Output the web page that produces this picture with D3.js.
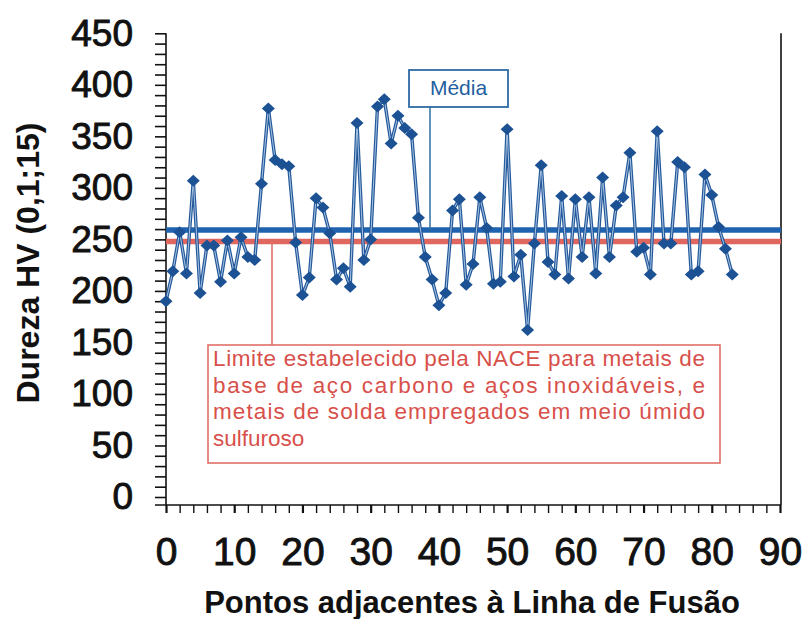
<!DOCTYPE html>
<html><head><meta charset="utf-8">
<script src="https://cdn.jsdelivr.net/npm/d3@7"></script>
<style>body{margin:0;background:#fff}svg{display:block}text{font-family:"Liberation Sans",Arial,sans-serif}</style>
</head><body><svg id="c" width="808" height="619"></svg>
<script>
const hardness=[190,219,257,217,307,198,244,244,209,249,
217,252,233,230,304,377,327,323,321,247,
196,213,290,281,256,211,222,204,363,230,
250,379,386,343,370,358,352,271,233,211,
186,198,278,289,206,226,291,261,207,209,
357,214,235,162,246,322,228,216,292,212,
289,233,291,217,310,233,283,291,334,238,
242,216,355,246,246,325,320,216,219,313,
293,262,241,216];
const xTickLabels=[0,10,20,30,40,50,60,70,80,90];
const yTickLabels=[0,50,100,150,200,250,300,350,400,450];
const meanValue=259;
const naceLimit=248;
const yTitle="Dureza HV (0,1;15)";
const xTitle="Pontos adjacentes à Linha de Fusão";
const meanLabel="Média";
const naceLines=["Limite estabelecido pela NACE para metais de","base de aço carbono e aços inoxidáveis, e","metais de solda empregados em meio úmido","sulfuroso"];

const svg=d3.select("#c");
const x=d3.scaleLinear().domain([0,90]).range([166,780]);
const y=d3.scaleLinear().domain([0,450]).range([497,33.3]);

// frame lines
svg.append("line").attr("x1",166).attr("x2",166).attr("y1",y(450)).attr("y2",505).attr("stroke","#111").attr("stroke-width",1.6);
svg.append("line").attr("x1",781).attr("x2",781).attr("y1",y(450)).attr("y2",505).attr("stroke","#111").attr("stroke-width",1.6);

// y axis
const yMinor=d3.range(0,451,10);
const ya=svg.append("g").attr("transform","translate(166,0)")
 .call(d3.axisLeft(y).tickValues(yMinor).tickSize(11).tickSizeOuter(0).tickPadding(22)
 .tickFormat(d=>yTickLabels.includes(d)?d:""));
ya.select(".domain").remove();
ya.selectAll(".tick line").attr("stroke","#111").attr("stroke-width",1.6);
ya.selectAll("text").attr("font-size",37).attr("fill","#111").attr("stroke","#111").attr("stroke-width",0.9);

// x axis
const xMinor=d3.range(0,91,2);
const xa=svg.append("g").attr("transform","translate(0,505)")
 .call(d3.axisBottom(x).tickValues(xMinor).tickSize(8).tickSizeOuter(0).tickPadding(24)
 .tickFormat(d=>xTickLabels.includes(d)?d:""));
xa.select(".domain").attr("d","M155,0H781").attr("stroke","#111").attr("stroke-width",1.6);
xa.selectAll(".tick line").attr("stroke","#111").attr("stroke-width",d=>d%10===0?2.2:1.4);
xa.selectAll("text").attr("font-size",39).attr("fill","#111").attr("stroke","#111").attr("stroke-width",0.9);

// titles
svg.append("text").attr("transform","translate(39,263) rotate(-90)").attr("text-anchor","middle")
 .attr("font-size",32).attr("font-weight","bold").attr("fill","#111").text(yTitle);
svg.append("text").attr("x",472).attr("y",613).attr("text-anchor","middle")
 .attr("font-size",31).attr("font-weight","bold").attr("fill","#111").text(xTitle);

// reference lines
svg.append("line").attr("x1",166).attr("x2",781).attr("y1",y(meanValue)).attr("y2",y(meanValue))
 .attr("stroke","#1f62b0").attr("stroke-width",5.5);
svg.append("line").attr("x1",166).attr("x2",781).attr("y1",y(naceLimit)).attr("y2",y(naceLimit))
 .attr("stroke","#e0675f").attr("stroke-width",5.5);

// series
const line=d3.line().x((d,i)=>x(i)).y(d=>y(d));
svg.append("path").datum(hardness).attr("d",line).attr("fill","none").attr("stroke","#24599b").attr("stroke-width",3.4).attr("stroke-linejoin","round");
svg.append("path").datum(hardness).attr("d",line).attr("fill","none").attr("stroke","#a9c4e2").attr("stroke-width",1);
svg.selectAll(".pt").data(hardness).join("path").attr("class","pt")
 .attr("transform",(d,i)=>`translate(${x(i)},${y(d)})`)
 .attr("d","M0,-6L6.5,0L0,6L-6.5,0Z").attr("fill","#1c5294");

// Média callout
svg.append("line").attr("x1",430).attr("x2",430).attr("y1",107).attr("y2",y(meanValue))
 .attr("stroke","#2f6f9f").attr("stroke-width",1.5);
svg.append("rect").attr("x",409).attr("y",70).attr("width",99).attr("height",37)
 .attr("fill","#fff").attr("stroke","#2f6aa5").attr("stroke-width",1.8);
svg.append("text").attr("x",458.5).attr("y",95).attr("text-anchor","middle").attr("font-size",21)
 .attr("fill","#1f5fa0").text(meanLabel);

// NACE callout
svg.append("line").attr("x1",272).attr("x2",272).attr("y1",345).attr("y2",y(naceLimit))
 .attr("stroke","#e07068").attr("stroke-width",1.6);
svg.append("rect").attr("x",208).attr("y",345).attr("width",512).attr("height",118)
 .attr("fill","#fff").attr("stroke","#e07068").attr("stroke-width",1.6);
svg.selectAll(".nace").data(naceLines).join("text").attr("class","nace")
 .attr("x",213).attr("y",(d,i)=>366+i*26.7).attr("font-size",22.5).attr("fill","#d8504a")
 .each(function(d,i){ if(i<naceLines.length-1) d3.select(this).attr("textLength",492).attr("lengthAdjust","spacing"); })
 .text(d=>d);
</script></body></html>
